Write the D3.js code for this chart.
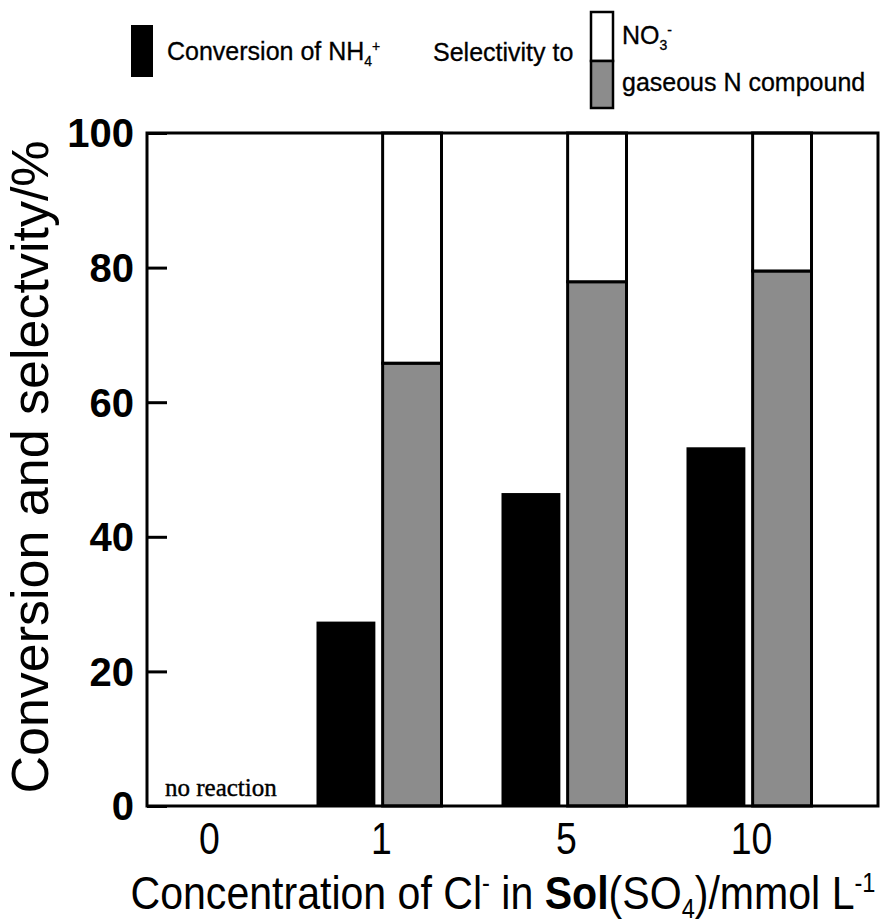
<!DOCTYPE html>
<html>
<head>
<meta charset="utf-8">
<script src="https://cdn.jsdelivr.net/npm/d3@7"></script>
<style>
  body { margin: 0; background: #fff; }
  text { font-family: "Liberation Sans", Arial, sans-serif; }
</style>
</head>
<body>
<div id="chart"></div>
<script>
// data
const categories = ["0", "1", "5", "10"];
const conversion = [null, 27.4, 46.5, 53.3];     // black bars, % (0 = no reaction)
const selGaseous = [null, 65.8, 77.9, 79.5];     // grey part of stacked bar
const selNO3 = [null, 34.2, 22.1, 20.5];         // white part on top
const yTicks = [0, 20, 40, 60, 80, 100];

const width = 883;
const height = 923;
const frame = { left: 147, right: 878, top: 133, bottom: 806 };

const svg = d3.select("#chart")
    .append("svg")
    .attr("width", width)
    .attr("height", height);

const xScale = d3.scaleBand()
    .domain(categories)
    .range([102, 842]);

const subScale = d3.scaleBand()
    .domain(["conv", "sel"])
    .range([-63, 62])
    .paddingInner(0.11);

const yScale = d3.scaleLinear()
    .domain([0, 100])
    .range([frame.bottom, frame.top]);

const rows = categories.map((c, i) => ({
    cat: c,
    conv: conversion[i],
    gas: selGaseous[i],
    no3: selNO3[i]
})).filter(d => d.conv !== null);

const cx = c => xScale(c) + xScale.bandwidth() / 2;

// conversion bars
svg.selectAll(".conv")
    .data(rows)
    .enter()
    .append("rect")
    .attr("class", "conv")
    .attr("x", d => cx(d.cat) + subScale("conv"))
    .attr("y", d => yScale(d.conv))
    .attr("width", subScale.bandwidth())
    .attr("height", d => yScale(0) - yScale(d.conv))
    .attr("fill", "#000");

// selectivity stacked bars
svg.selectAll(".gas")
    .data(rows)
    .enter()
    .append("rect")
    .attr("class", "gas")
    .attr("x", d => cx(d.cat) + subScale("sel"))
    .attr("y", d => yScale(d.gas))
    .attr("width", subScale.bandwidth())
    .attr("height", d => yScale(0) - yScale(d.gas))
    .attr("fill", "#8c8c8c")
    .attr("stroke", "#000")
    .attr("stroke-width", 3);

svg.selectAll(".no3")
    .data(rows)
    .enter()
    .append("rect")
    .attr("class", "no3")
    .attr("x", d => cx(d.cat) + subScale("sel"))
    .attr("y", d => yScale(d.gas + d.no3))
    .attr("width", subScale.bandwidth())
    .attr("height", d => yScale(d.gas) - yScale(d.gas + d.no3))
    .attr("fill", "#fff")
    .attr("stroke", "#000")
    .attr("stroke-width", 3);

// frame
svg.append("rect")
    .attr("x", frame.left)
    .attr("y", frame.top)
    .attr("width", frame.right - frame.left)
    .attr("height", frame.bottom - frame.top)
    .attr("fill", "none")
    .attr("stroke", "#000")
    .attr("stroke-width", 3);

// y axis: ticks inside, labels outside
const yAxis = svg.append("g")
    .attr("transform", `translate(${frame.left},0)`)
    .call(d3.axisRight(yScale).tickValues(yTicks).tickSize(20).tickFormat(""));
yAxis.select(".domain").remove();
yAxis.selectAll("line").attr("stroke", "#000").attr("stroke-width", 3);

svg.selectAll(".ylab")
    .data(yTicks)
    .enter()
    .append("text")
    .attr("class", "ylab")
    .attr("x", 134)
    .attr("y", d => yScale(d))
    .attr("dy", "0.36em")
    .attr("text-anchor", "end")
    .attr("font-size", "40px")
    .attr("font-weight", "bold")
    .text(d => d);

// x labels (narrow face)
svg.selectAll(".xlab")
    .data(categories)
    .enter()
    .append("text")
    .attr("class", "xlab")
    .attr("transform", d => `translate(${cx(d) + (d === "0" ? 15 : 2)},838) scale(0.85,1)`)
    .attr("dy", "0.36em")
    .attr("text-anchor", "middle")
    .attr("font-size", "44px")
    .text(d => d);

svg.append("text")
    .attr("x", 165)
    .attr("y", 796)
    .style("font-family", "'Liberation Serif', 'Times New Roman', serif")
    .attr("font-size", "25px")
    .attr("stroke", "#000")
    .attr("stroke-width", 0.4)
    .text("no reaction");

// axis titles
svg.append("text")
    .attr("transform", `translate(48,467) rotate(-90)`)
    .attr("text-anchor", "middle")
    .attr("font-size", "52px")
    .text("Conversion and selectvity/%");

const xt = svg.append("text")
    .attr("x", 503)
    .attr("y", 909)
    .attr("text-anchor", "middle")
    .attr("font-size", "47px")
    .attr("textLength", 745)
    .attr("lengthAdjust", "spacingAndGlyphs");
xt.append("tspan").text("Concentration of Cl");
xt.append("tspan").attr("font-size", "27px").attr("dy", "-17").text("-");
xt.append("tspan").attr("dy", "17").text(" in ");
xt.append("tspan").attr("font-weight", "bold").text("Sol");
xt.append("tspan").text("(SO");
xt.append("tspan").attr("font-size", "27px").attr("dy", "9").text("4");
xt.append("tspan").attr("dy", "-9").text(")/mmol L");
xt.append("tspan").attr("font-size", "27px").attr("dy", "-17").text("-1");

// legend
svg.append("rect")
    .attr("x", 131).attr("y", 25)
    .attr("width", 22).attr("height", 52)
    .attr("fill", "#000");

const legendText = sel => sel.attr("font-size", "25px").attr("stroke", "#000").attr("stroke-width", 0.3);

const l1 = svg.append("text").attr("x", 167).attr("y", 60).call(legendText);
l1.append("tspan").text("Conversion of NH");
l1.append("tspan").attr("font-size", "14px").attr("dy", "6").text("4");
l1.append("tspan").attr("font-size", "14px").attr("dy", "-15").text("+");

svg.append("text").attr("x", 433).attr("y", 61).call(legendText).text("Selectivity to");

svg.append("rect")
    .attr("x", 591).attr("y", 12)
    .attr("width", 22).attr("height", 49)
    .attr("fill", "#fff").attr("stroke", "#000").attr("stroke-width", 2.5);
svg.append("rect")
    .attr("x", 591).attr("y", 61)
    .attr("width", 22).attr("height", 47)
    .attr("fill", "#8c8c8c").attr("stroke", "#000").attr("stroke-width", 2.5);

const l2 = svg.append("text").attr("x", 622).attr("y", 44).call(legendText);
l2.append("tspan").text("NO");
l2.append("tspan").attr("font-size", "14px").attr("dy", "6").text("3");
l2.append("tspan").attr("font-size", "14px").attr("dy", "-15").text("-");

svg.append("text").attr("x", 622).attr("y", 91).call(legendText).text("gaseous N compound");
</script>
</body>
</html>
